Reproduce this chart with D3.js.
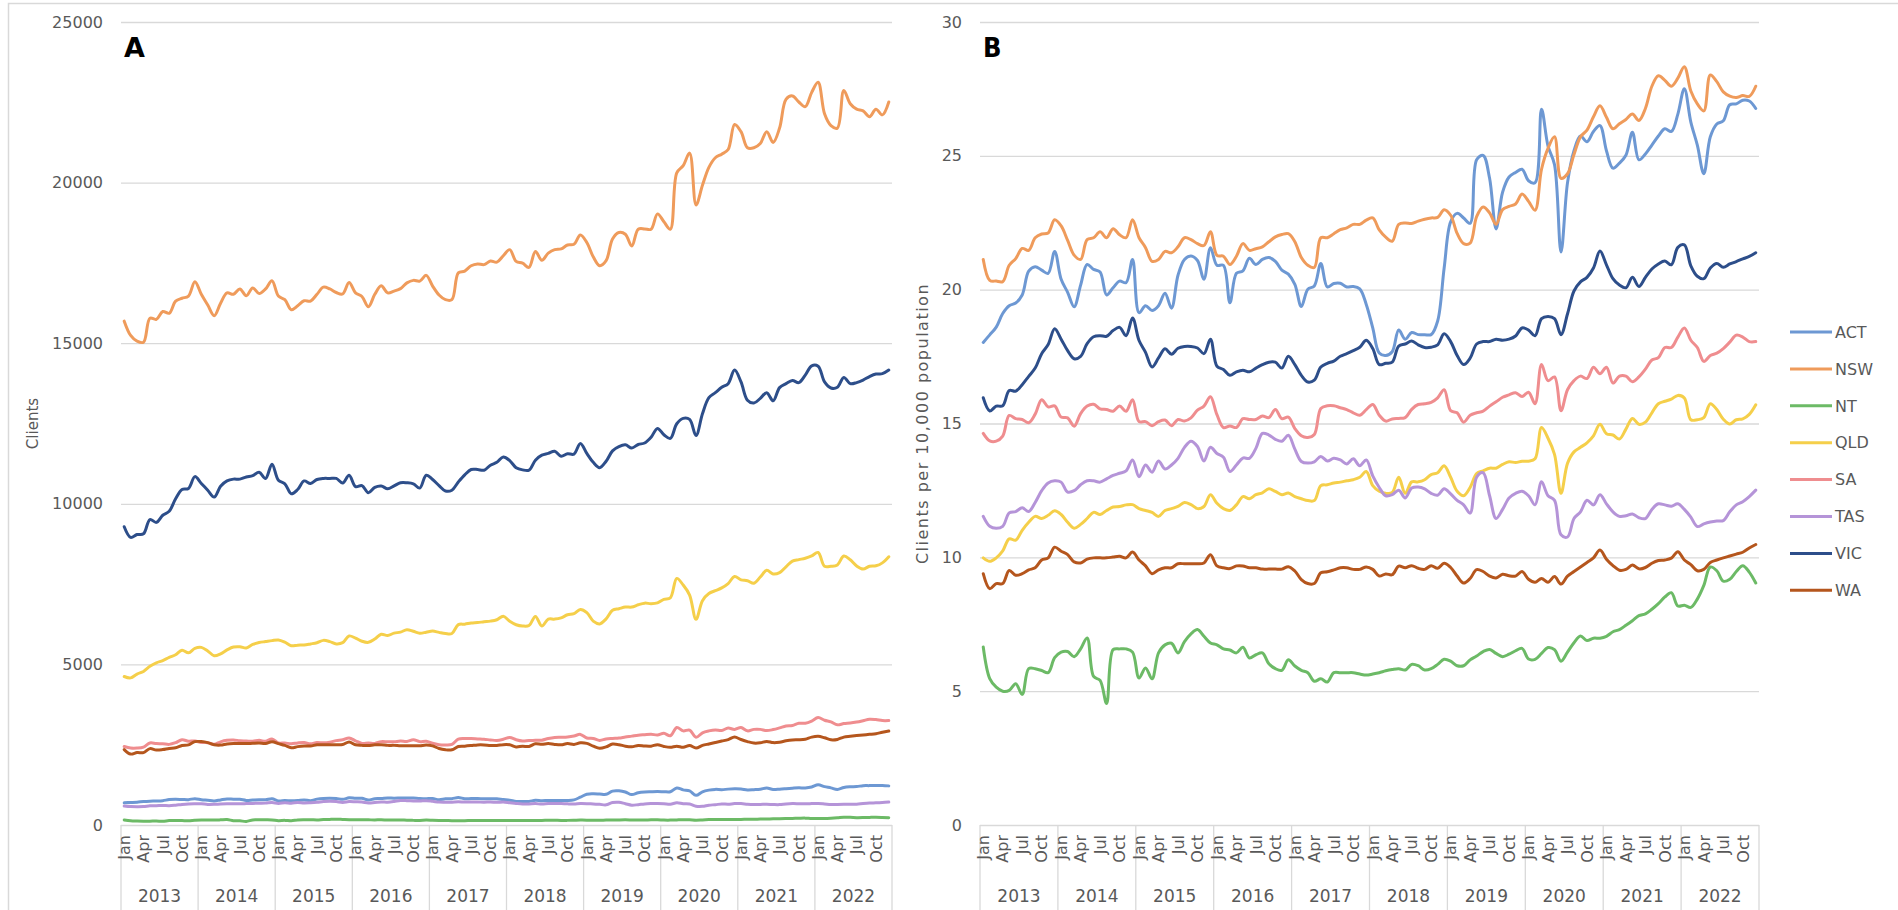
<!DOCTYPE html>
<html><head><meta charset="utf-8">
<script src="https://cdn.jsdelivr.net/npm/d3@7"></script>
<style>
body{margin:0;background:#fff;}
text{font-family:"DejaVu Sans",sans-serif;}
</style>
</head><body>
<script>
const states = ["ACT","NSW","NT","QLD","SA","TAS","VIC","WA"];
const years = [2013,2014,2015,2016,2017,2018,2019,2020,2021,2022];
const monthNames = ["Jan","Feb","Mar","Apr","May","Jun","Jul","Aug","Sep","Oct","Nov","Dec"];
const monthTicks = ["Jan","Apr","Jul","Oct"];
const clientTicks = [0,5000,10000,15000,20000,25000];
const rateTicks = [0,5,10,15,20,25,30];

// Panel A: clients
const clientsACT = [
691,701,712,732,743,747,758,792,799,794,789,821,
789,770,749,781,810,803,800,766,777,786,784,818,
750,760,753,760,779,757,805,828,833,827,799,846,
832,832,776,820,824,843,833,841,844,838,825,819,
822,788,815,820,854,818,823,824,818,819,815,792,
773,733,730,735,769,755,765,762,762,762,783,866,
958,971,964,955,1056,1063,1027,946,1005,1029,1036,1041,
1037,1034,1152,1093,1063,923,1034,1086,1109,1100,1117,1126,
1121,1092,1100,1113,1152,1106,1116,1130,1145,1157,1153,1182,
1252,1195,1156,1107,1170,1192,1197,1224,1226,1232,1231,1218];
const clientsNSW = [
15687,15242,15064,15030,15776,15743,15988,15932,16310,16400,16466,16912,
16522,16188,15854,16244,16566,16522,16689,16477,16722,16544,16689,16945,
16466,16355,16043,16166,16322,16311,16522,16744,16689,16578,16533,16890,
16566,16455,16133,16522,16789,16566,16622,16700,16878,16956,16934,17112,
16778,16500,16355,16355,17190,17245,17412,17468,17446,17557,17524,17724,
17913,17546,17490,17360,17858,17580,17802,17913,17935,18058,18080,18370,
18136,17691,17412,17568,18247,18447,18392,18024,18548,18559,18548,19026,
18781,18548,20306,20529,20918,19305,19917,20473,20774,20885,21030,21809,
21586,21085,21085,21219,21586,21252,21697,22588,22699,22510,22365,22810,
23122,22143,21775,21697,22866,22454,22287,22231,22053,22287,22109,22510];
const clientsNT = [
158,130,122,119,119,125,116,138,138,137,135,148,
157,157,153,160,170,135,131,110,159,160,160,157,
135,144,134,158,165,166,158,168,175,179,173,167,
166,162,161,158,163,154,156,158,148,144,142,152,
147,143,141,133,135,132,141,141,141,141,139,138,
139,140,142,143,144,142,148,146,142,144,148,152,
151,146,146,152,155,159,161,158,155,157,160,162,
153,152,158,163,161,151,159,168,174,169,172,172,
174,178,180,184,188,193,195,199,204,210,214,202,
205,203,211,224,241,238,228,230,237,242,236,226];
const clientsQLD = [
4623,4580,4700,4780,4940,5050,5120,5220,5300,5440,5360,5500,
5530,5420,5270,5330,5450,5540,5550,5510,5620,5680,5710,5740,
5760,5690,5580,5600,5605,5638,5676,5748,5710,5638,5676,5886,
5818,5721,5687,5789,5939,5900,5973,6006,6079,6031,5973,6002,
6037,5997,5963,5963,6239,6253,6288,6303,6327,6347,6391,6499,
6340,6235,6195,6210,6495,6195,6410,6410,6450,6545,6580,6710,
6612,6347,6261,6418,6683,6734,6785,6785,6856,6907,6892,6917,
7026,7073,7677,7471,7160,6406,6985,7207,7295,7383,7517,7739,
7632,7606,7527,7720,7929,7814,7856,8039,8216,8263,8305,8378,
8485,8054,8054,8097,8374,8257,8065,7969,8054,8070,8161,8352];
const clientsSA = [
2443,2396,2395,2427,2555,2535,2530,2510,2563,2654,2609,2615,
2568,2563,2511,2590,2637,2649,2620,2615,2605,2637,2605,2678,
2554,2554,2529,2554,2565,2529,2568,2558,2578,2627,2653,2712,
2621,2539,2550,2539,2596,2591,2591,2613,2603,2654,2596,2606,
2547,2501,2491,2509,2676,2694,2694,2681,2669,2649,2633,2669,
2726,2656,2618,2632,2635,2641,2694,2726,2731,2740,2769,2821,
2709,2695,2634,2679,2695,2706,2739,2767,2797,2812,2826,2802,
2854,2778,3036,2930,2955,2732,2870,2930,2960,2944,3018,2976,
3035,2931,2977,2977,2939,2971,3023,3083,3099,3167,3167,3236,
3343,3260,3211,3118,3157,3173,3204,3247,3294,3281,3251,3251];
const clientsTAS = [
591,573,569,573,598,601,608,601,618,641,656,660,
660,641,643,655,662,662,660,666,673,677,681,702,
673,695,681,703,688,695,708,729,741,731,703,729,
722,714,687,699,713,712,732,761,758,749,746,757,
737,713,710,712,723,714,719,716,708,718,705,716,
694,671,654,656,666,650,670,672,668,659,655,668,
665,653,643,627,699,708,662,616,634,657,667,671,
664,646,692,664,655,585,581,618,632,655,646,666,
666,649,640,641,645,637,635,654,666,664,661,666,
672,656,636,641,645,648,648,667,682,689,699,713];
const clientsVIC = [
9287,8954,9043,9065,9510,9421,9644,9766,10156,10445,10478,10846,
10634,10423,10211,10545,10712,10768,10768,10835,10879,10979,10790,11235,
10735,10623,10312,10445,10712,10634,10757,10790,10790,10790,10645,10890,
10534,10568,10345,10512,10556,10467,10556,10656,10656,10623,10489,10890,
10757,10568,10400,10423,10679,10902,11068,11068,11046,11202,11291,11457,
11346,11124,11057,11046,11357,11513,11569,11636,11480,11558,11547,11881,
11569,11291,11124,11324,11647,11781,11836,11736,11847,11892,12070,12348,
12148,12037,12493,12660,12626,12126,12805,13305,13461,13628,13740,14163,
13795,13227,13138,13283,13461,13205,13617,13740,13840,13773,14007,14296,
14285,13795,13606,13628,13929,13740,13773,13851,13962,14040,14051,14163];
const clientsWA = [
2348,2208,2255,2255,2378,2333,2348,2383,2403,2475,2495,2595,
2598,2565,2497,2487,2522,2535,2535,2535,2543,2550,2535,2591,
2534,2478,2404,2440,2460,2460,2499,2499,2499,2499,2506,2586,
2497,2479,2472,2497,2497,2479,2479,2466,2466,2466,2466,2490,
2463,2380,2341,2341,2444,2455,2473,2494,2494,2478,2478,2502,
2497,2432,2453,2445,2529,2513,2534,2508,2497,2534,2508,2557,
2540,2455,2387,2431,2519,2500,2455,2437,2474,2458,2455,2500,
2446,2417,2454,2417,2473,2399,2478,2524,2569,2614,2660,2737,
2661,2597,2551,2559,2602,2565,2578,2621,2648,2653,2672,2736,
2762,2715,2651,2664,2737,2762,2784,2804,2823,2843,2888,2924];

// Panel B: clients per 10,000 population
const rateACT = [
18.03,18.31,18.60,19.11,19.40,19.50,19.80,20.69,20.86,20.73,20.61,21.43,
20.39,19.90,19.36,20.17,20.94,20.76,20.66,19.80,20.07,20.32,20.26,21.13,
19.14,19.40,19.22,19.40,19.87,19.31,20.54,21.13,21.26,21.09,20.39,21.57,
20.91,20.91,19.51,20.61,20.70,21.17,20.94,21.13,21.20,21.06,20.73,20.58,
20.20,19.37,20.02,20.14,20.98,20.10,20.23,20.24,20.10,20.12,20.03,19.45,
18.57,17.63,17.54,17.68,18.49,18.15,18.40,18.32,18.32,18.32,18.83,20.81,
22.53,22.85,22.68,22.48,24.85,25.02,24.16,22.27,23.64,24.21,24.38,24.50,
24.07,23.99,26.74,25.36,24.67,21.41,23.99,25.19,25.74,25.53,25.91,26.13,
25.19,24.54,24.73,25.02,25.88,24.85,25.07,25.40,25.74,26.01,25.91,26.56,
27.51,26.26,25.40,24.33,25.71,26.19,26.31,26.91,26.94,27.08,27.05,26.77];
const rateNSW = [
21.13,20.35,20.32,20.30,20.91,21.16,21.54,21.47,21.94,22.08,22.12,22.61,
22.38,21.84,21.29,21.13,21.87,21.94,22.16,21.94,22.28,22.05,21.94,22.61,
21.94,21.57,21.06,21.13,21.43,21.38,21.60,21.94,21.87,21.72,21.65,22.16,
21.28,21.25,20.94,21.25,21.72,21.47,21.53,21.60,21.79,21.97,22.06,22.09,
21.79,21.20,20.91,20.83,21.94,21.94,22.09,22.24,22.31,22.44,22.44,22.60,
22.68,22.23,21.96,21.81,22.44,22.49,22.47,22.56,22.63,22.68,22.70,22.99,
22.78,22.10,21.72,21.74,22.73,23.09,22.87,22.44,22.99,23.11,23.20,23.57,
23.30,22.97,24.50,25.28,25.71,24.16,24.33,25.05,25.71,25.96,26.46,26.87,
26.44,26.01,26.20,26.36,26.56,26.32,26.77,27.60,27.99,27.82,27.60,27.90,
28.33,27.42,26.94,26.68,28.02,27.77,27.39,27.23,27.18,27.25,27.22,27.60];
const rateNT = [
6.65,5.47,5.15,5.00,5.03,5.28,4.88,5.84,5.84,5.77,5.69,6.25,
6.46,6.48,6.29,6.58,6.99,5.55,5.40,4.54,6.55,6.58,6.58,6.46,
5.49,5.87,5.46,6.43,6.73,6.79,6.43,6.85,7.14,7.30,7.05,6.80,
6.73,6.58,6.54,6.43,6.64,6.24,6.36,6.43,6.02,5.84,5.78,6.17,
5.94,5.78,5.69,5.37,5.46,5.34,5.69,5.69,5.69,5.69,5.64,5.60,
5.64,5.69,5.76,5.81,5.84,5.79,6.00,5.95,5.79,5.84,6.00,6.19,
6.12,5.95,5.95,6.17,6.31,6.48,6.56,6.41,6.29,6.38,6.51,6.60,
6.20,6.19,6.41,6.63,6.55,6.12,6.46,6.81,7.06,6.89,6.98,6.98,
7.05,7.22,7.30,7.46,7.63,7.82,7.89,8.06,8.27,8.52,8.68,8.18,
8.21,8.13,8.44,8.95,9.64,9.50,9.11,9.18,9.47,9.69,9.45,9.04];
const rateQLD = [
9.98,9.85,9.98,10.24,10.69,10.64,11.01,11.31,11.53,11.45,11.57,11.74,
11.60,11.31,11.09,11.23,11.45,11.68,11.60,11.75,11.88,11.90,11.96,11.97,
11.82,11.75,11.68,11.53,11.75,11.82,11.90,12.05,11.97,11.82,11.90,12.34,
12.02,11.82,11.75,11.96,12.27,12.19,12.34,12.41,12.56,12.46,12.34,12.40,
12.27,12.19,12.12,12.12,12.68,12.71,12.78,12.81,12.86,12.90,12.99,13.21,
12.68,12.47,12.39,12.42,12.99,12.39,12.82,12.82,12.90,13.09,13.16,13.42,
12.99,12.47,12.30,12.61,13.13,13.23,13.33,13.33,13.47,13.57,13.54,13.59,
13.59,13.68,14.85,14.45,13.85,12.39,13.51,13.94,14.11,14.28,14.54,14.97,
14.62,14.57,14.42,14.79,15.19,14.97,15.05,15.40,15.74,15.83,15.91,16.05,
15.95,15.14,15.14,15.22,15.74,15.52,15.16,14.98,15.14,15.17,15.34,15.70];
const rateSA = [
14.63,14.35,14.34,14.53,15.30,15.18,15.15,15.03,15.35,15.89,15.62,15.66,
15.24,15.21,14.90,15.37,15.65,15.72,15.55,15.52,15.46,15.65,15.46,15.89,
15.07,15.07,14.92,15.07,15.13,14.92,15.15,15.09,15.21,15.50,15.65,16.00,
15.33,14.85,14.91,14.85,15.18,15.15,15.15,15.28,15.22,15.52,15.18,15.24,
14.81,14.54,14.48,14.59,15.56,15.66,15.66,15.59,15.52,15.40,15.31,15.52,
15.71,15.31,15.09,15.17,15.19,15.22,15.53,15.71,15.74,15.79,15.96,16.26,
15.48,15.40,15.05,15.31,15.40,15.46,15.65,15.81,15.98,16.07,16.15,16.01,
16.17,15.74,17.20,16.60,16.74,15.48,16.26,16.60,16.77,16.68,17.10,16.86,
17.10,16.51,16.77,16.77,16.56,16.74,17.03,17.37,17.46,17.84,17.84,18.23,
18.57,18.11,17.84,17.32,17.54,17.63,17.80,18.04,18.30,18.23,18.06,18.06];
const rateTAS = [
11.53,11.16,11.09,11.16,11.66,11.71,11.85,11.71,12.05,12.49,12.78,12.86,
12.81,12.44,12.49,12.71,12.86,12.86,12.81,12.93,13.06,13.14,13.23,13.64,
13.01,13.45,13.18,13.60,13.30,13.45,13.70,14.11,14.34,14.14,13.60,14.11,
13.88,13.74,13.21,13.45,13.71,13.70,14.07,14.63,14.57,14.41,14.34,14.56,
14.04,13.58,13.52,13.57,13.77,13.60,13.70,13.64,13.49,13.68,13.42,13.64,
13.04,12.61,12.30,12.34,12.51,12.22,12.59,12.63,12.56,12.39,12.32,12.56,
12.37,12.13,11.96,11.65,12.99,13.16,12.30,11.45,11.79,12.22,12.39,12.47,
12.30,11.96,12.82,12.30,12.13,10.84,10.76,11.45,11.70,12.13,11.96,12.34,
12.00,11.70,11.53,11.55,11.62,11.48,11.45,11.79,12.00,11.96,11.91,12.00,
11.79,11.50,11.15,11.25,11.32,11.36,11.37,11.70,11.96,12.08,12.27,12.51];
const rateVIC = [
15.96,15.47,15.65,15.66,16.23,16.21,16.45,16.76,17.07,17.61,17.95,18.54,
18.15,17.72,17.42,17.51,17.98,18.24,18.28,18.26,18.47,18.59,18.28,18.94,
18.10,17.66,17.11,17.45,17.79,17.59,17.81,17.88,17.88,17.82,17.61,18.15,
17.14,17.02,16.80,16.93,16.99,16.93,17.07,17.20,17.29,17.29,17.07,17.51,
17.20,16.80,16.55,16.62,17.11,17.25,17.33,17.51,17.61,17.72,17.85,18.11,
17.80,17.20,17.25,17.29,17.89,17.97,18.08,17.94,17.84,17.85,17.94,18.35,
18.06,17.54,17.20,17.44,17.97,18.06,18.06,18.15,18.11,18.15,18.27,18.57,
18.49,18.28,18.92,19.00,18.92,18.32,19.09,19.95,20.29,20.46,20.81,21.44,
20.93,20.41,20.17,20.07,20.46,20.12,20.46,20.77,20.96,21.07,20.93,21.58,
21.67,20.89,20.50,20.41,20.81,20.98,20.84,20.96,21.05,21.15,21.24,21.38];
const rateWA = [
9.39,8.83,9.02,9.02,9.51,9.33,9.39,9.53,9.61,9.90,9.98,10.38,
10.23,10.10,9.83,9.79,9.93,9.98,9.98,9.98,10.01,10.04,9.98,10.20,
9.90,9.68,9.39,9.53,9.61,9.61,9.76,9.76,9.76,9.76,9.79,10.10,
9.68,9.61,9.58,9.68,9.68,9.61,9.61,9.56,9.56,9.56,9.56,9.65,
9.49,9.17,9.02,9.02,9.42,9.46,9.53,9.61,9.61,9.55,9.55,9.64,
9.55,9.30,9.38,9.35,9.67,9.61,9.69,9.59,9.55,9.69,9.59,9.78,
9.62,9.30,9.04,9.21,9.54,9.47,9.30,9.23,9.37,9.31,9.30,9.47,
9.18,9.07,9.21,9.07,9.28,9.00,9.30,9.47,9.64,9.81,9.98,10.27,
9.93,9.69,9.52,9.55,9.71,9.57,9.62,9.78,9.88,9.90,9.97,10.21,
9.90,9.73,9.50,9.55,9.81,9.90,9.98,10.05,10.12,10.19,10.35,10.48];

const colors = {ACT:"#6d98d3",NSW:"#ef9b5b",NT:"#6cba66",QLD:"#f5cf4a",SA:"#ef8d8f",TAS:"#b594d8",VIC:"#2d4e8a",WA:"#b5561d"};
const clientsSeries = {ACT:clientsACT,NSW:clientsNSW,NT:clientsNT,QLD:clientsQLD,SA:clientsSA,TAS:clientsTAS,VIC:clientsVIC,WA:clientsWA};
const rateSeries = {ACT:rateACT,NSW:rateNSW,NT:rateNT,QLD:rateQLD,SA:rateSA,TAS:rateTAS,VIC:rateVIC,WA:rateWA};

const categories = years.flatMap(y => monthNames.map(m => m + " " + y));

const W = 1898, H = 910;
const svg = d3.select("body").append("svg").attr("width", W).attr("height", H);
const grid = "#d9d9d9", txt = "#595959";
const yTop = 22, yBot = 825;

function drawPanel(o) {
  const g = svg.append("g");
  const x = d3.scaleBand().domain(categories).range([o.x0, o.x1]);
  const xc = c => x(c) + x.bandwidth() / 2;
  const xYear = d3.scaleBand().domain(years).range([o.x0, o.x1]);
  const y = d3.scaleLinear().domain([0, o.ticks[o.ticks.length - 1]]).range([yBot, yTop]);

  const ya = g.append("g").attr("transform", `translate(${o.x0},0)`)
    .call(d3.axisLeft(y).tickValues(o.ticks).tickSize(-(o.x1 - o.x0)).tickPadding(o.pad).tickFormat(d3.format("d")));
  ya.select(".domain").remove();
  ya.selectAll("line").attr("stroke", grid).attr("stroke-width", 1.3);
  ya.selectAll("text").attr("fill", txt).style("font-size", "16px").style("font-family", '"DejaVu Sans",sans-serif');

  const bounds = years.map(yr => xYear(yr)).concat([o.x1]);
  g.selectAll(".sep").data(bounds).join("line")
    .attr("x1", d => d).attr("x2", d => d).attr("y1", yBot).attr("y2", H)
    .attr("stroke", grid).attr("stroke-width", 1.3);

  const mcats = years.flatMap(yr => monthTicks.map(m => m + " " + yr));
  g.selectAll(".m").data(mcats).join("text")
    .attr("transform", d => `translate(${xc(d)},${yBot + 10}) rotate(-90)`)
    .attr("text-anchor", "end").attr("dy", "0.36em")
    .attr("fill", txt).style("font-size", "16px")
    .text(d => d.split(" ")[0]);

  g.selectAll(".yr").data(years).join("text")
    .attr("x", d => xYear(d) + xYear.bandwidth() / 2).attr("y", 896).attr("dy", "0.36em")
    .attr("text-anchor", "middle").attr("fill", txt).style("font-size", "17px")
    .text(d => d);

  const line = d3.line().x((d, i) => xc(categories[i])).y(d => y(d)).curve(d3.curveCatmullRom.alpha(0.5));
  states.forEach(s => {
    g.append("path").datum(o.series[s]).attr("d", line)
      .attr("fill", "none").attr("stroke", colors[s]).attr("stroke-width", 3)
      .attr("stroke-linejoin", "round").attr("stroke-linecap", "round");
  });

  g.append("text").attr("transform", `translate(${o.titleX},${(yTop + yBot) / 2}) rotate(-90)`)
    .attr("text-anchor", "middle").attr("dy", "0.36em").attr("fill", txt)
    .style("font-size", o.titleSize).style("letter-spacing", o.titleSpacing).text(o.title);

  g.append("text").attr("x", o.x0 + 3).attr("y", 57).attr("fill", "#000")
    .style("font-size", "27px").style("font-weight", "bold").style("font-family", o.letterFont)
    .text(o.letter);
}

// outer frame (left and top edges visible)
svg.append("rect").attr("x", 8.5).attr("y", 3.5).attr("width", 1950).attr("height", 950)
  .attr("fill", "none").attr("stroke", "#d9d9d9").attr("stroke-width", 1.5);

drawPanel({x0: 121, x1: 892, ticks: clientTicks, series: clientsSeries, pad: 18,
  title: "Clients", titleX: 33, titleSize: "15px", titleSpacing: "0px",
  letter: "A", letterFont: '"DejaVu Sans",sans-serif'});
drawPanel({x0: 980, x1: 1759, ticks: rateTicks, series: rateSeries, pad: 18,
  title: "Clients per 10,000 population", titleX: 922, titleSize: "16px", titleSpacing: "1.5px",
  letter: "B", letterFont: '"Liberation Sans Narrow","DejaVu Sans Condensed",sans-serif'});

const lg = svg.append("g");
states.forEach((s, i) => {
  const yy = 332 + i * 36.9;
  lg.append("line").attr("x1", 1790).attr("x2", 1832).attr("y1", yy).attr("y2", yy)
    .attr("stroke", colors[s]).attr("stroke-width", 3);
  lg.append("text").attr("x", 1835).attr("y", yy).attr("dy", "0.36em")
    .attr("fill", txt).style("font-size", "16px").text(s);
});
</script>
</body></html>
